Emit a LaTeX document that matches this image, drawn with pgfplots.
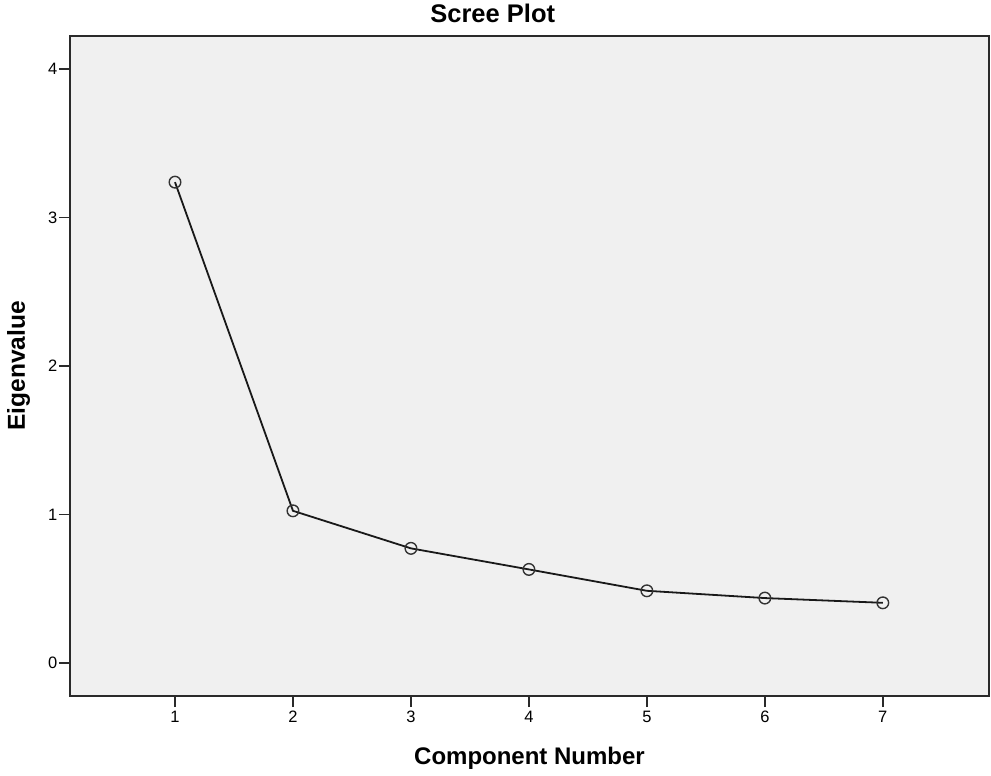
\documentclass[border=0pt]{standalone}
\usepackage{fontspec}
\setmainfont{Liberation Sans}
\usepackage{pgfplots}
\pgfplotsset{compat=1.18}
\definecolor{bg}{HTML}{F0F0F0}
\definecolor{axc}{HTML}{2A2A2A}
\begin{document}
\begin{tikzpicture}
\begin{axis}[
  name=ax,
  scale only axis,
  width=919pt, height=660pt,
  xmin=0.11, xmax=7.9,
  ymin=-0.224, ymax=4.224,
  axis background/.style={fill=bg},
  axis line style={axc, line width=1.7pt},
  xtick={1,2,3,4,5,6,7},
  ytick={0,1,2,3,4},
  tick align=outside,
  major tick length=11pt,
  tick style={axc, line width=1.7pt},
  xtick pos=bottom, ytick pos=left,
  /pgf/number format/assume math mode=true,
  tick label style={font=\fontsize{16.5}{19}\selectfont, text=black},
  yticklabel style={inner sep=1.5pt},
  xticklabel style={inner sep=2pt, yshift=-2pt},
  title={Scree Plot},
  title style={at={(axis description cs:0.46,1)}, anchor=base, yshift=7pt, font=\bfseries\fontsize{25.5}{30}\selectfont},
  xlabel={Component Number},
  xlabel style={at={(axis description cs:0.5,0)}, anchor=base, yshift=-69pt, font=\bfseries\fontsize{24}{28}\selectfont},
  ylabel={Eigenvalue},
  ylabel style={at={(axis description cs:0,0.5)}, anchor=base, rotate=0, yshift=45pt, font=\bfseries\fontsize{24.5}{28}\selectfont},
  clip=false,
]
\addplot[black!90, line width=1.8pt, mark=o, mark size=5.8pt, mark options={line width=1.4pt, draw=black!80, fill=none}]
  coordinates {(1,3.239) (2,1.024) (3,0.771) (4,0.629) (5,0.485) (6,0.436) (7,0.404)};
\end{axis}
\pgfresetboundingbox
\path ([shift={(-70pt,-80pt)}]ax.south west) rectangle ([shift={(2pt,36pt)}]ax.north east);
\end{tikzpicture}
\end{document}
